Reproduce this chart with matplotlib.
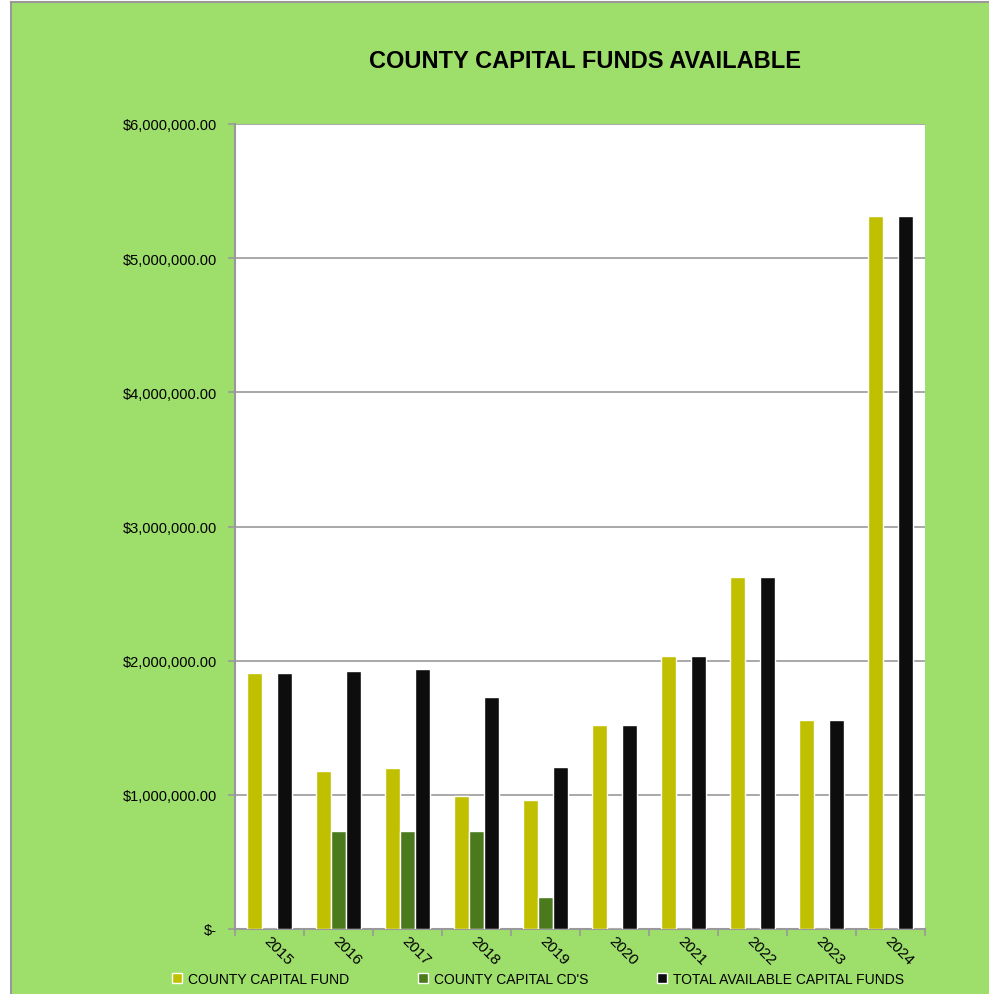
import matplotlib
matplotlib.use("Agg")
import matplotlib.pyplot as plt
from matplotlib.patches import Rectangle
from matplotlib.lines import Line2D
from matplotlib.ticker import FuncFormatter, FixedLocator
import numpy as np

plt.rcParams['font.family'] = ['Liberation Sans', 'DejaVu Sans']

years = ['2015', '2016', '2017', '2018', '2019', '2020', '2021', '2022', '2023', '2024']
county_capital_fund = [1908000, 1177000, 1200000, 991000, 961000, 1520000, 2034000, 2623000, 1557000, 5313000]
county_capital_cds = [0, 730000, 730000, 730000, 238000, 0, 0, 0, 0, 0]
total_available = [1908000, 1922000, 1937000, 1729000, 1207000, 1520000, 2034000, 2623000, 1557000, 5313000]
series_names = ['COUNTY CAPITAL FUND', "COUNTY CAPITAL CD'S", 'TOTAL AVAILABLE CAPITAL FUNDS']
series_colors = ['#C0C000', '#4A7A1C', '#0D0D0D']

W, H = 989, 995
fig = plt.figure(figsize=(W / 100, H / 100), dpi=100)
fig.patch.set_facecolor('white')
bg = Rectangle((11 / W, 0), 1 - 11 / W, (H - 3) / H, transform=fig.transFigure,
               facecolor='#9EDE6B', edgecolor='none', zorder=-10)
fig.patches.append(bg)
fig.lines.append(Line2D([11 / W, 1], [(H - 3) / H, (H - 3) / H], transform=fig.transFigure,
                        color='#999999', linewidth=1.5, zorder=-9))
fig.lines.append(Line2D([11 / W, 11 / W], [0, (H - 3) / H], transform=fig.transFigure,
                        color='#999999', linewidth=1.5, zorder=-9))

ax = fig.add_axes([235 / W, (H - 930) / H, 690 / W, 805 / H])
ax.set_facecolor('white')

x = np.arange(len(years))
bw = 0.215
data = [county_capital_fund, county_capital_cds, total_available]
offs = [-bw, 0, bw]
for vals, c, o, name in zip(data, series_colors, offs, series_names):
    ax.bar(x + o, vals, width=bw, color=c, edgecolor='white', linewidth=1.0,
           label=name, zorder=3)

ax.set_xlim(-0.5, len(years) - 0.5)
ax.set_ylim(0, 6000000)
ax.set_yticks(np.arange(0, 6000001, 1000000))

def fmt(v, pos):
    if v == 0:
        return '$-'
    return '${:,.2f}'.format(v)
ax.yaxis.set_major_formatter(FuncFormatter(fmt))
ax.grid(axis='y', color='#999999', linewidth=1.2, zorder=0)
ax.set_axisbelow(True)

for s in ['top', 'right']:
    ax.spines[s].set_visible(False)
for s in ['left', 'bottom']:
    ax.spines[s].set_color('#999999')
    ax.spines[s].set_linewidth(1.5)

ax.tick_params(axis='y', length=5, color='#999999', width=1.2, labelsize=10.5, pad=8)
ax.set_xticks(x)
ax.set_xticklabels([])
ax.tick_params(axis='x', which='major', length=0)
ax.xaxis.set_minor_locator(FixedLocator(np.arange(-0.5, len(years), 1.0)))
ax.tick_params(axis='x', which='minor', length=5, color='#999999', width=1.2)

for i, yr in enumerate(years):
    ax.text(i - 0.05, -0.012, yr, transform=ax.get_xaxis_transform(), rotation=-45,
            rotation_mode='anchor', ha='left', va='center', fontsize=11, color='black')

fig.text(585 / W, (H - 62) / H, 'COUNTY CAPITAL FUNDS AVAILABLE', ha='center', va='center',
         fontsize=17, fontweight='bold', color='black')

handles = [Rectangle((0, 0), 1, 1, facecolor=c, edgecolor='white', linewidth=1) for c in series_colors]
fig.legend(handles, series_names, loc='center', bbox_to_anchor=(538 / W, (H - 980) / H),
           ncol=3, frameon=False, fontsize=10, handlelength=0.7, handleheight=0.7,
           handletextpad=0.4, columnspacing=5.0, borderpad=0)

fig.savefig('out.png', dpi=100, facecolor=fig.get_facecolor())
